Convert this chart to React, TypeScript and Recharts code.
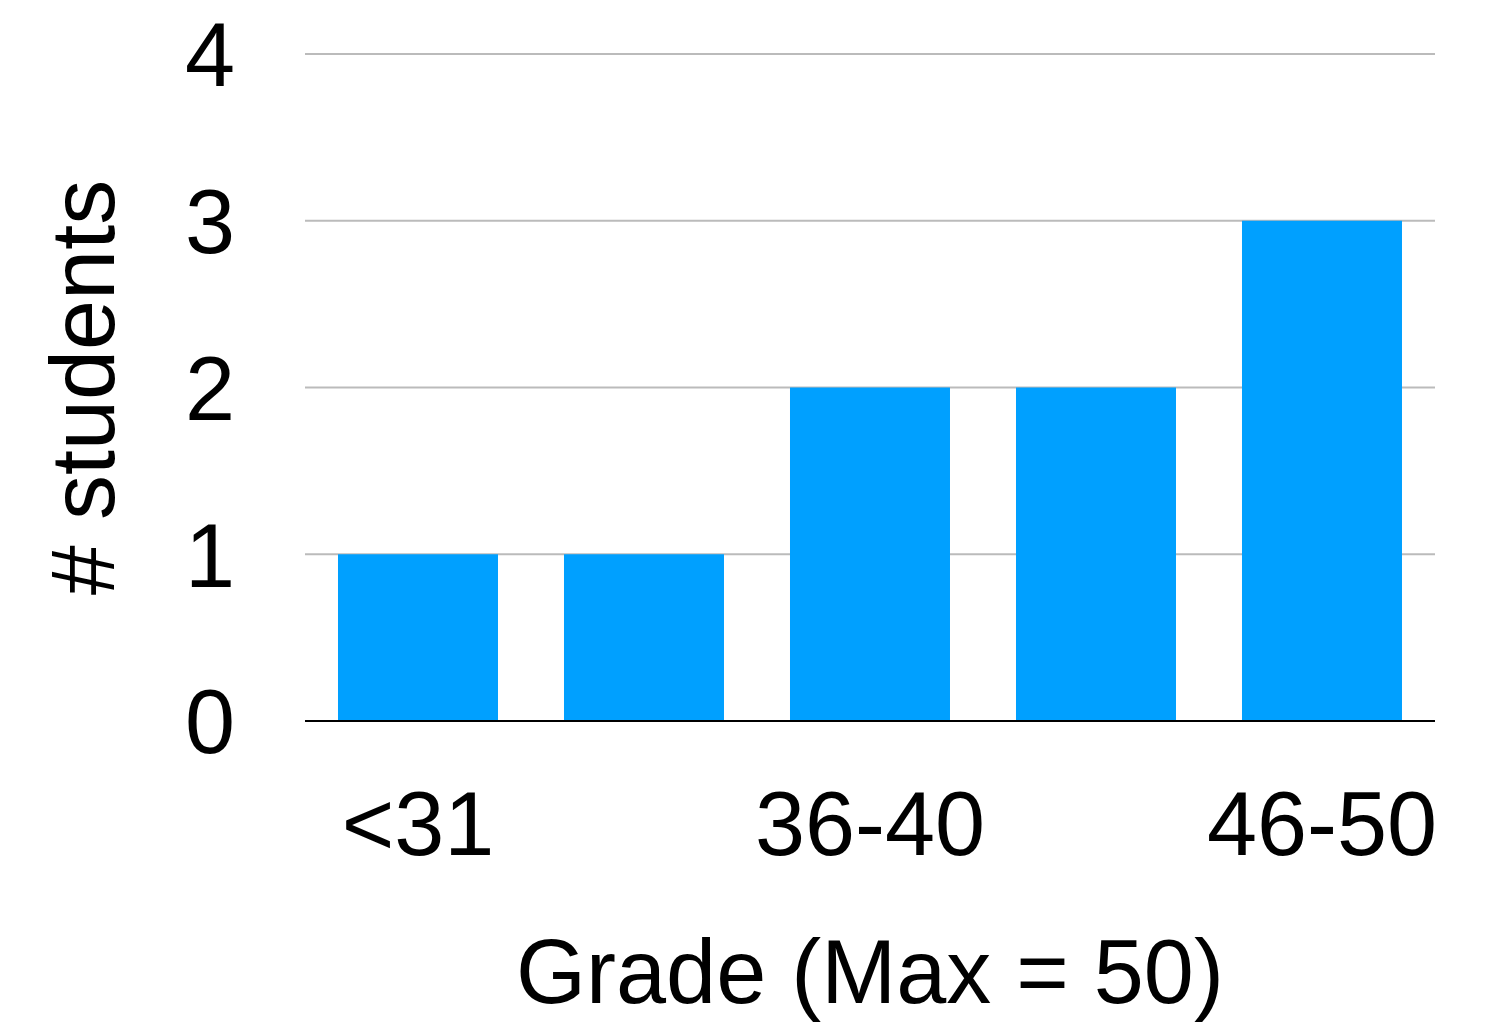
import React from 'react'
import { Bar, BarChart, CartesianGrid, Label, XAxis, YAxis } from 'recharts'

const grades = ['<31', '31-35', '36-40', '41-45', '46-50']
const studentCounts = [1, 1, 2, 2, 3]
const yTicks = [0, 1, 2, 3, 4]

const FONT = '"Liberation Sans", Arimo, Helvetica, Arial, sans-serif'

interface TickProps {
  x?: number
  y?: number
  payload?: { value: string | number }
}

function YTick({ y = 0, payload }: TickProps) {
  return (
    <text x={235} y={y} dy="0.36em" textAnchor="end" fontSize={90} fontFamily={FONT} fill="#000">
      {payload?.value}
    </text>
  )
}

function XTick({ x = 0, y = 0, payload }: TickProps) {
  return (
    <text x={x} y={y} dy={126} textAnchor="middle" fontSize={90} fontFamily={FONT} fill="#000">
      {payload?.value}
    </text>
  )
}

function YTitle(props: { viewBox?: { x: number; y: number; width: number; height: number } }) {
  const vb = props.viewBox ?? { x: 0, y: 0, width: 0, height: 0 }
  const cy = vb.y + vb.height / 2
  return (
    <text
      x={114}
      y={cy}
      transform={`rotate(-90, 114, ${cy})`}
      textAnchor="middle"
      fontSize={90}
      fontFamily={FONT}
      fill="#000"
    >
      # students
    </text>
  )
}

export default function App() {
  const data = grades.map((g, i) => ({ grade: g, count: studentCounts[i] }))

  return (
    <div style={{ position: 'absolute', left: 0, top: 0, width: 1492, height: 1023, background: '#fff' }}>
      <BarChart
        width={1492}
        height={1023}
        data={data}
        margin={{ top: 54, right: 57, left: 0, bottom: 0 }}
        barCategoryGap="14.6%"
      >
        <CartesianGrid vertical={false} stroke="#bbbbbb" strokeWidth={2} />
        <XAxis
          dataKey="grade"
          height={302}
          interval={1}
          tickLine={false}
          axisLine={{ stroke: '#000', strokeWidth: 2 }}
          tick={<XTick />}
        >
          <Label
            value="Grade (Max = 50)"
            position="insideBottom"
            offset={20}
            fontSize={90}
            fontFamily={FONT}
            fill="#000"
          />
        </XAxis>
        <YAxis
          width={305}
          domain={[0, 4]}
          ticks={yTicks}
          interval={0}
          tickLine={false}
          axisLine={false}
          tick={<YTick />}
        >
          <Label content={<YTitle />} />
        </YAxis>
        <Bar dataKey="count" fill="#00a0ff" isAnimationActive={false} />
      </BarChart>
    </div>
  )
}
